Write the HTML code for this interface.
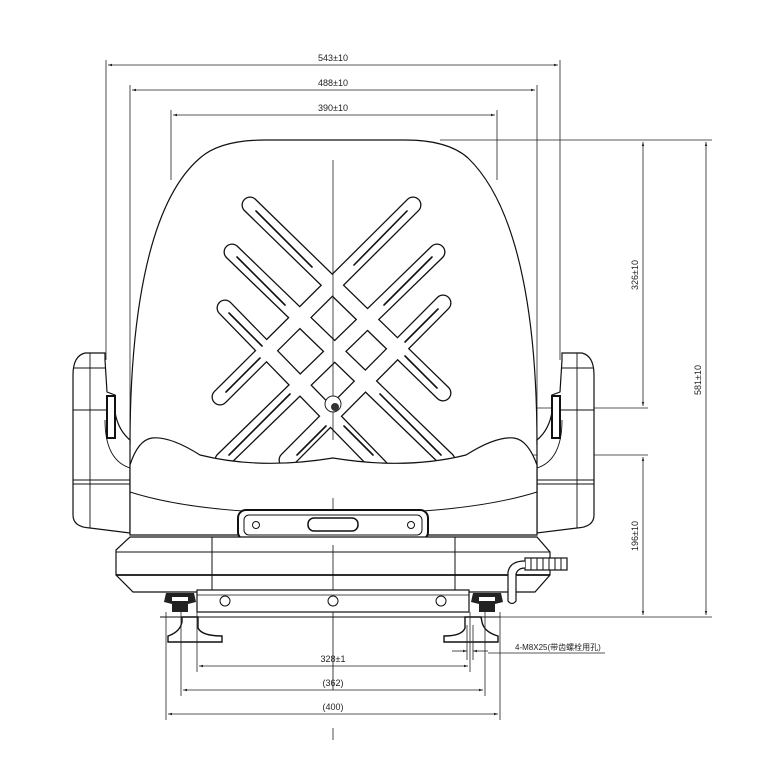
<!DOCTYPE html>
<html><head><meta charset="utf-8"><style>
html,body{margin:0;padding:0;background:#fff}
svg{display:block}
text{font-family:"Liberation Sans","Noto Sans CJK SC",sans-serif;fill:#222}
</style></head><body>
<svg width="768" height="783" viewBox="0 0 768 783" xmlns="http://www.w3.org/2000/svg">
<defs>
<marker id="a" viewBox="0 0 10 10" refX="10" refY="5" markerWidth="7" markerHeight="5" orient="auto-start-reverse"><path d="M0,2 L10,5 L0,8z" fill="#222"/></marker>
</defs>
<g stroke="#222" stroke-width="0.8" fill="none">
<!-- extension lines -->
<line x1="106" y1="60" x2="106" y2="360"/>
<line x1="560" y1="60" x2="560" y2="360"/>
<line x1="130" y1="85" x2="130" y2="440"/>
<line x1="537" y1="85" x2="537" y2="440"/>
<line x1="171" y1="110" x2="171" y2="180"/>
<line x1="497" y1="110" x2="497" y2="180"/>
<line x1="108" y1="65" x2="558" y2="65" marker-start="url(#a)" marker-end="url(#a)"/>
<line x1="132" y1="90" x2="535" y2="90" marker-start="url(#a)" marker-end="url(#a)"/>
<line x1="173" y1="115" x2="495" y2="115" marker-start="url(#a)" marker-end="url(#a)"/>
<line x1="440" y1="140" x2="712" y2="140"/>
<line x1="345" y1="408" x2="648" y2="408"/>
<line x1="470" y1="455" x2="648" y2="455"/>
<line x1="480" y1="617" x2="712" y2="617"/>
<line x1="643" y1="142" x2="643" y2="406" marker-start="url(#a)" marker-end="url(#a)"/>
<line x1="643" y1="457" x2="643" y2="615" marker-start="url(#a)" marker-end="url(#a)"/>
<line x1="706" y1="142" x2="706" y2="615" marker-start="url(#a)" marker-end="url(#a)"/>
</g>
<text x="333" y="61" font-size="9" text-anchor="middle">543±10</text>
<text x="333" y="86" font-size="9" text-anchor="middle">488±10</text>
<text x="333" y="111" font-size="9" text-anchor="middle">390±10</text>
<text transform="translate(638,275) rotate(-90)" font-size="9" text-anchor="middle">326±10</text>
<text transform="translate(701,380) rotate(-90)" font-size="9" text-anchor="middle">581±10</text>
<text transform="translate(638,536) rotate(-90)" font-size="9" text-anchor="middle">196±10</text>

<!-- backrest -->
<path d="M130,445 C130,330 145,205 200,158 Q220,140 265,140 L405,140 Q448,140 468,158 C522,210 537,330 537,445" fill="#fff" stroke="#111" stroke-width="1.2"/>

<!-- lattice -->
<g stroke-linecap="round" fill="none">
<g stroke="#111" stroke-width="17">
<line x1="250" y1="205" x2="443" y2="393"/>
<line x1="232" y1="252" x2="447" y2="460"/>
<line x1="225" y1="308" x2="380" y2="467"/>
<line x1="413" y1="205" x2="220" y2="397"/>
<line x1="437" y1="252" x2="223" y2="460"/>
<line x1="443" y1="303" x2="287" y2="460"/>
</g>
<g stroke="#fff" stroke-width="14.4">
<line x1="250" y1="205" x2="443" y2="393"/>
<line x1="232" y1="252" x2="447" y2="460"/>
<line x1="225" y1="308" x2="380" y2="467"/>
<line x1="413" y1="205" x2="220" y2="397"/>
<line x1="437" y1="252" x2="223" y2="460"/>
<line x1="443" y1="303" x2="287" y2="460"/>
</g>
<g stroke="#111" stroke-width="1.6">
<line x1="256" y1="211" x2="312" y2="267"/>
<line x1="407" y1="211" x2="354" y2="265"/>
<line x1="237" y1="257" x2="285" y2="305"/>
<line x1="432" y1="257" x2="384" y2="305"/>
<line x1="229" y1="313" x2="262" y2="346"/>
<line x1="438" y1="309" x2="405" y2="342"/>
<line x1="226" y1="392" x2="260" y2="358"/>
<line x1="437" y1="388" x2="405" y2="356"/>
<line x1="229" y1="455" x2="290" y2="394"/>
<line x1="441" y1="455" x2="380" y2="394"/>
<line x1="297" y1="455" x2="326" y2="426"/>
<line x1="373" y1="455" x2="344" y2="426"/>
</g>
</g>
<line x1="333" y1="160" x2="333" y2="440" stroke="#222" stroke-width="0.8"/>
<circle cx="333" cy="404" r="8" fill="#fff" stroke="#222" stroke-width="1"/>
<circle cx="335" cy="407" r="4" fill="#333"/>

<!-- armrests -->
<g fill="#fff" stroke="#111" stroke-width="1.2">
<path d="M105,353 L85,353 Q73,356 73,375 L73,515 Q73,527 90,528 L130,533 L130,440 Q118,430 115,412 L115,395 L107,392 L105,360z"/>
<path d="M562,353 L582,353 Q594,356 594,375 L594,515 Q594,527 577,528 L537,533 L537,440 Q549,430 552,412 L552,395 L560,392 L562,360z"/>
</g>
<g stroke="#111" stroke-width="0.9" fill="none">
<line x1="90" y1="353" x2="90" y2="528"/><line x1="577" y1="353" x2="577" y2="528"/>
<line x1="73" y1="480" x2="130" y2="480"/><line x1="73" y1="484" x2="130" y2="484"/>
<line x1="537" y1="480" x2="594" y2="480"/><line x1="537" y1="484" x2="594" y2="484"/>
<line x1="73" y1="368" x2="105" y2="368"/><line x1="562" y1="368" x2="594" y2="368"/>
<line x1="73" y1="410" x2="107" y2="410"/><line x1="560" y1="410" x2="594" y2="410"/>
<rect x="107" y="396" width="8" height="42" stroke-width="2"/>
<rect x="552" y="396" width="8" height="42" stroke-width="2"/>
<path d="M105,420 Q105,460 130,468"/><path d="M562,420 Q562,460 537,468"/>
</g>

<!-- cushion -->
<path d="M130,465 Q138,440 152,438 Q170,436 200,455 Q260,470 333,458 Q406,470 466,455 Q496,436 514,438 Q528,440 537,465 L537,535 L130,535z" fill="#fff" stroke="#111" stroke-width="1.2"/>
<path d="M130,492 Q180,508 260,512 L406,512 Q486,508 537,492" fill="none" stroke="#111" stroke-width="1"/>
<line x1="333" y1="498" x2="333" y2="515" stroke="#222" stroke-width="0.8"/>

<!-- lever -->
<rect x="238" y="510" width="190" height="30" rx="8" fill="#fff" stroke="#111" stroke-width="2"/>
<rect x="244" y="515" width="178" height="20" rx="5" fill="none" stroke="#111" stroke-width="1"/>
<rect x="308" y="518" width="50" height="13" rx="6" fill="none" stroke="#111" stroke-width="1.5"/>
<circle cx="256" cy="525" r="3.5" fill="none" stroke="#111"/><circle cx="411" cy="525" r="3.5" fill="none" stroke="#111"/>

<!-- base -->
<path d="M130,537 L537,537 L550,552 L550,575 L535,592 L133,592 L116,575 L116,550z" fill="#fff" stroke="#111" stroke-width="1.2"/>
<g stroke="#111" fill="none">
<line x1="116" y1="552" x2="550" y2="552" stroke-width="1"/>
<line x1="116" y1="575" x2="550" y2="575" stroke-width="1.8"/>
<line x1="212" y1="537" x2="212" y2="592"/><line x1="455" y1="537" x2="455" y2="592"/>
<line x1="333" y1="545" x2="333" y2="690" stroke-width="0.8"/>
</g>
<!-- handle -->
<g stroke="#111" fill="#fff">
<rect x="525" y="558" width="42" height="12" stroke-width="1.2"/>
<g stroke-width="1"><line x1="531" y1="558" x2="531" y2="570"/><line x1="537" y1="558" x2="537" y2="570"/><line x1="543" y1="558" x2="543" y2="570"/><line x1="549" y1="558" x2="549" y2="570"/><line x1="555" y1="558" x2="555" y2="570"/><line x1="561" y1="558" x2="561" y2="570"/></g>
<path d="M525,561 Q510,561 508,572 L508,601 Q512,606 516,601 L516,574 Q518,568 525,568" stroke-width="1.2"/>
</g>

<!-- rail -->
<rect x="197" y="590" width="272" height="22" fill="#fff" stroke="#111" stroke-width="1.2"/>
<line x1="197" y1="595" x2="469" y2="595" stroke="#111" stroke-width="0.8"/>
<circle cx="225" cy="601" r="5" fill="none" stroke="#111"/>
<circle cx="333" cy="601" r="5" fill="none" stroke="#111"/>
<circle cx="441" cy="601" r="5" fill="none" stroke="#111"/>
<!-- knobs -->
<g fill="#222">
<path d="M166,593 L194,593 L196,602 L188,604 L188,612 L172,612 L172,604 L164,602z"/>
<path d="M473,593 L501,593 L503,602 L495,604 L495,612 L479,612 L479,604 L471,602z"/>
</g>
<g fill="#fff"><rect x="172" y="597" width="16" height="4"/><rect x="479" y="597" width="16" height="4"/></g>
<line x1="160" y1="617" x2="500" y2="617" stroke="#111" stroke-width="1"/>
<!-- feet -->
<g fill="#fff" stroke="#111" stroke-width="1.4">
<path d="M182,617 L198,617 L198,628 Q202,636 222,636 L222,642 L168,642 L168,636 Q180,632 182,622z"/>
<path d="M465,617 L481,617 L482,622 Q484,632 498,636 L498,642 L444,642 L444,636 Q462,636 465,628z"/>
</g>
<g stroke="#222" stroke-width="0.8" fill="none">
<line x1="166" y1="612" x2="166" y2="720"/>
<line x1="500" y1="612" x2="500" y2="720"/>
<line x1="181" y1="612" x2="181" y2="696"/>
<line x1="485" y1="612" x2="485" y2="696"/>
<line x1="197" y1="612" x2="197" y2="672"/>
<line x1="470" y1="612" x2="470" y2="672"/>
<line x1="467" y1="625" x2="467" y2="660"/><line x1="473" y1="625" x2="473" y2="660"/>
<line x1="199" y1="666" x2="468" y2="666" marker-start="url(#a)" marker-end="url(#a)"/>
<line x1="183" y1="690" x2="483" y2="690" marker-start="url(#a)" marker-end="url(#a)"/>
<line x1="168" y1="714" x2="498" y2="714" marker-start="url(#a)" marker-end="url(#a)"/>
<line x1="452" y1="651" x2="467" y2="651" marker-end="url(#a)"/>
<line x1="488" y1="651" x2="473" y2="651" marker-end="url(#a)"/>
<line x1="488" y1="653" x2="605" y2="653"/>
<line x1="333" y1="728" x2="333" y2="740"/>
</g>
<text x="333" y="662" font-size="9" text-anchor="middle">328±1</text>
<text x="333" y="686" font-size="9" text-anchor="middle">(362)</text>
<text x="333" y="710" font-size="9" text-anchor="middle">(400)</text>
<text x="515" y="650" font-size="8">4-M8X25(带齿螺栓用孔)</text>
</svg>
</body></html>
